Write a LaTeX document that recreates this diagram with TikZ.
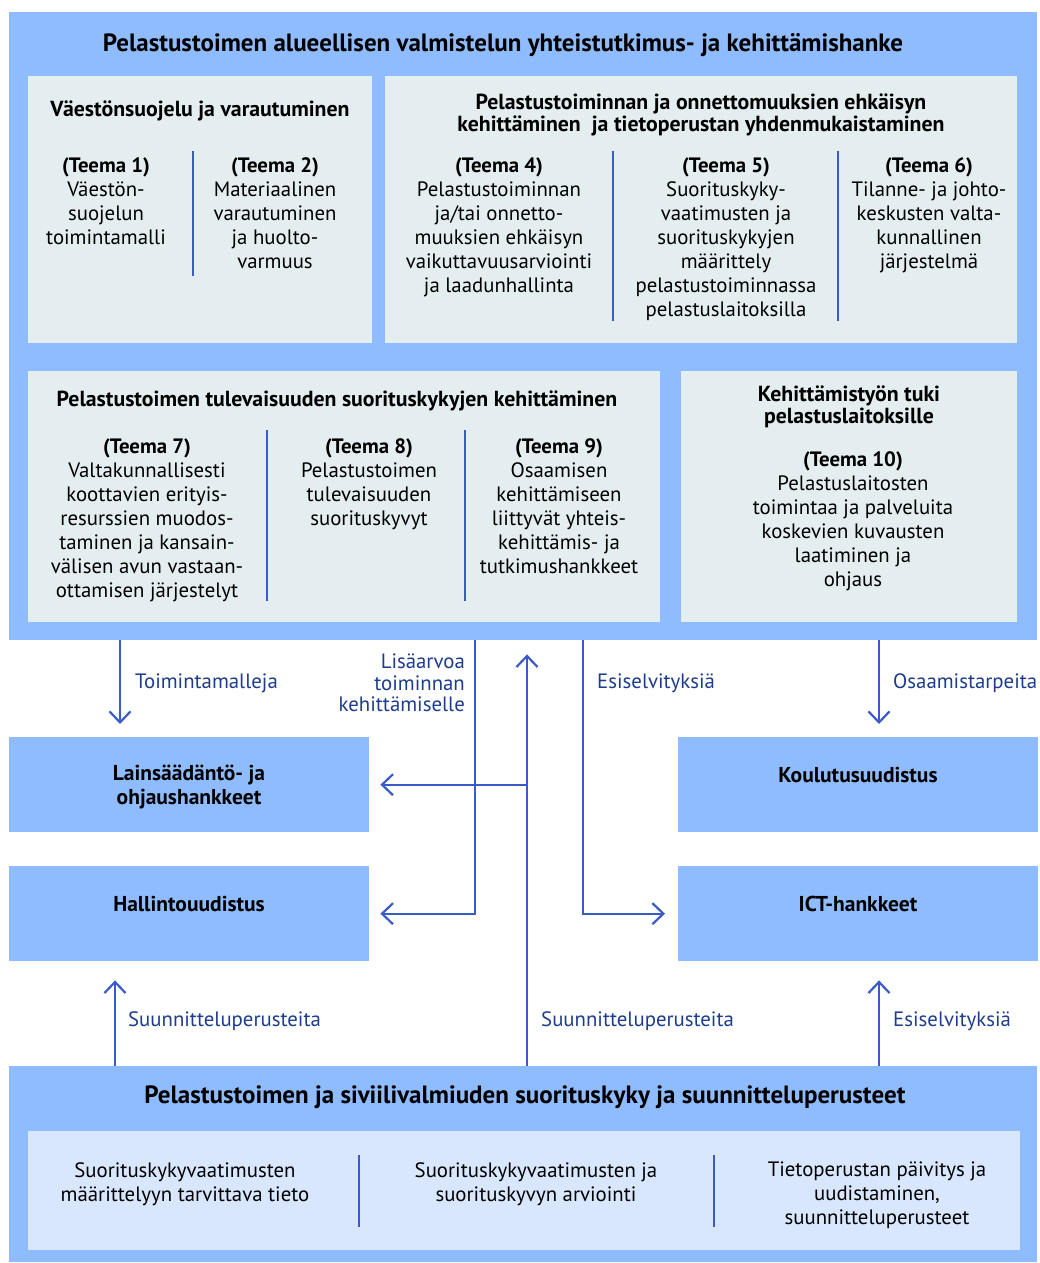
\documentclass[tikz,border=0pt]{standalone}
\usepackage{fontspec}
\setmainfont{PT Sans}
\usetikzlibrary{arrows.meta}
\definecolor{bigblue}{HTML}{8FBCFE}
\definecolor{panel}{HTML}{E4EEF0}
\definecolor{inner}{HTML}{D8E7FE}
\definecolor{linec}{HTML}{3A5BC7}
\definecolor{labc}{HTML}{1E3C8C}
\tikzset{
  box/.style={fill=#1, draw=none, inner sep=0pt, anchor=north west},
  hd/.style={font=\bfseries\fontsize{21.8}{22}\selectfont, align=center, inner sep=0pt},
  tx/.style={font=\fontsize{20.8}{24}\selectfont, align=center, inner sep=0pt, anchor=north},
  lab/.style={font=\fontsize{20.8}{21.5}\selectfont, text=labc, inner sep=0pt},
  arr/.style={draw=linec, line width=2.2pt, -{Straight Barb[length=11pt, width=21pt, line width=2.2pt]}},
  divider/.style={draw=linec, line width=1.3pt},
}
\begin{document}
\begin{tikzpicture}[x=1pt, y=-1pt]
\useasboundingbox (0,0) rectangle (1039,1263);
% big boxes
\node[box=bigblue, minimum width=1028pt, minimum height=628pt] (top) at (9,12) {};
\node[box=panel, minimum width=344pt, minimum height=267pt] (pa) at (28,76) {};
\node[box=panel, minimum width=632pt, minimum height=267pt] (pb) at (385,76) {};
\node[box=panel, minimum width=632pt, minimum height=251pt] (pc) at (28,371) {};
\node[box=panel, minimum width=336pt, minimum height=251pt] (pd) at (681,371) {};
\node[box=bigblue, minimum width=360pt, minimum height=95pt] (law) at (9,737) {};
\node[box=bigblue, minimum width=360pt, minimum height=95pt] (koul) at (678,737) {};
\node[box=bigblue, minimum width=360pt, minimum height=95pt] (hall) at (9,866) {};
\node[box=bigblue, minimum width=360pt, minimum height=95pt] (ict) at (678,866) {};
\node[box=bigblue, minimum width=1028pt, minimum height=196pt] (bot) at (9,1066) {};
\node[box=inner, minimum width=992pt, minimum height=119pt] (bin) at (28,1131) {};

% titles
\node[hd, font=\bfseries\fontsize{25}{26}\selectfont] (ttop) at (503,45) {Pelastustoimen alueellisen valmistelun yhteistutkimus- ja kehittämishanke};
\node[hd] (ha) at (200,111) {Väestönsuojelu ja varautuminen};
\node[hd, anchor=north] (hb) at (701,94) {Pelastustoiminnan ja onnettomuuksien ehkäisyn\\kehittäminen \ ja tietoperustan yhdenmukaistaminen};
\node[hd] (hc) at (337,401) {Pelastustoimen tulevaisuuden suorituskykyjen kehittäminen};
\node[hd, anchor=north] (hdd) at (849,386) {Kehittämistyön tuki\\pelastuslaitoksille};

% theme texts
\node[tx] (t1) at (106,157) {\textbf{(Teema 1)}\\Väestön-\\suojelun\\toimintamalli};
\node[tx] (t2) at (275,157) {\textbf{(Teema 2)}\\Materiaalinen\\varautuminen\\ja huolto-\\varmuus};
\node[tx] (t4) at (499,157) {\textbf{(Teema 4)}\\Pelastustoiminnan\\ja/tai onnetto-\\muuksien ehkäisyn\\vaikuttavuusarviointi\\ja laadunhallinta};
\node[tx] (t5) at (726,157) {\textbf{(Teema 5)}\\Suorituskyky-\\vaatimusten ja\\suorituskykyjen\\määrittely\\pelastustoiminnassa\\pelastuslaitoksilla};
\node[tx] (t6) at (929,157) {\textbf{(Teema 6)}\\Tilanne- ja johto-\\keskusten valta-\\kunnallinen\\järjestelmä};
\node[tx] (t7) at (147,438) {\textbf{(Teema 7)}\\Valtakunnallisesti\\koottavien erityis-\\resurssien muodos-\\taminen ja kansain-\\välisen avun vastaan-\\ottamisen järjestelyt};
\node[tx] (t8) at (369,438) {\textbf{(Teema 8)}\\Pelastustoimen\\tulevaisuuden\\suorituskyvyt};
\node[tx] (t9) at (559,438) {\textbf{(Teema 9)}\\Osaamisen\\kehittämiseen\\liittyvät yhteis-\\kehittämis- ja\\tutkimushankkeet};
\node[tx] (t10) at (853,451) {\textbf{(Teema 10)}\\Pelastuslaitosten\\toimintaa ja palveluita\\koskevien kuvausten\\laatiminen ja\\ohjaus};

% dividers
\draw[divider] (193,151) -- (193,276);
\draw[divider] (613,151) -- (613,321);
\draw[divider] (838,151) -- (838,321);
\draw[divider] (267,430) -- (267,601);
\draw[divider] (465,430) -- (465,601);
\draw[divider] (359,1155) -- (359,1227);
\draw[divider] (714,1155) -- (714,1227);

% lower boxes text
\node[hd, font=\bfseries\fontsize{21.5}{24}\selectfont] at (189,787) {Lainsäädäntö- ja\\ohjaushankkeet};
\node[hd, font=\bfseries\fontsize{21.5}{24}\selectfont] at (858,775) {Koulutusuudistus};
\node[hd, font=\bfseries\fontsize{21.5}{24}\selectfont] at (189,904) {Hallintouudistus};
\node[hd, font=\bfseries\fontsize{21.5}{24}\selectfont] at (858,904) {ICT-hankkeet};

% bottom
\node[hd, font=\bfseries\fontsize{25}{26}\selectfont] (tbot) at (525,1097) {Pelastustoimen ja siviilivalmiuden suorituskyky ja suunnitteluperusteet};
\node[tx] (b1) at (185,1162) {Suorituskykyvaatimusten\\määrittelyyn tarvittava tieto};
\node[tx] (b2) at (536,1162) {Suorituskykyvaatimusten ja\\suorituskyvyn arviointi};
\node[tx] (b3) at (877,1162) {Tietoperustan päivitys ja\\uudistaminen,\\suunnitteluperusteet};

% connector coordinates
\coordinate (c1) at (120,0);
\coordinate (c2) at (475,0);
\coordinate (c3) at (527,0);
\coordinate (c4) at (583,0);
\coordinate (c5) at (879,0);
\coordinate (c6) at (115,0);

\draw[arr] (c1 |- top.south) -- ([yshift=13pt]c1 |- law.north);
\draw[arr] (c2 |- top.south) -- (c2 |- hall.east) -- ([xshift=11pt]hall.east);
\draw[arr] (c3 |- bot.north) -- ([yshift=-14pt]c3 |- top.south);
\draw[arr] (c3 |- law.east) -- ([xshift=11pt]law.east);
\draw[arr] (c4 |- top.south) -- (c4 |- ict.west) -- ([xshift=-13pt]ict.west);
\draw[arr] (c5 |- top.south) -- ([yshift=13pt]c5 |- koul.north);
\draw[arr] (c6 |- bot.north) -- ([yshift=-19pt]c6 |- hall.south);
\draw[arr] (c5 |- bot.north) -- ([yshift=-19pt]c5 |- ict.south);

% labels
\node[lab, anchor=west] (l1) at (135,683) {Toimintamalleja};
\node[lab, anchor=east, align=right] (l2) at (465,683) {Lisäarvoa\\toiminnan\\kehittämiselle};
\node[lab, anchor=west] (l3) at (597,683) {Esiselvityksiä};
\node[lab, anchor=west] (l4) at (893,683) {Osaamistarpeita};
\node[lab, anchor=west] (l5) at (128,1021) {Suunnitteluperusteita};
\node[lab, anchor=west] (l6) at (541,1021) {Suunnitteluperusteita};
\node[lab, anchor=west] (l7) at (893,1021) {Esiselvityksiä};
\end{tikzpicture}
\end{document}
